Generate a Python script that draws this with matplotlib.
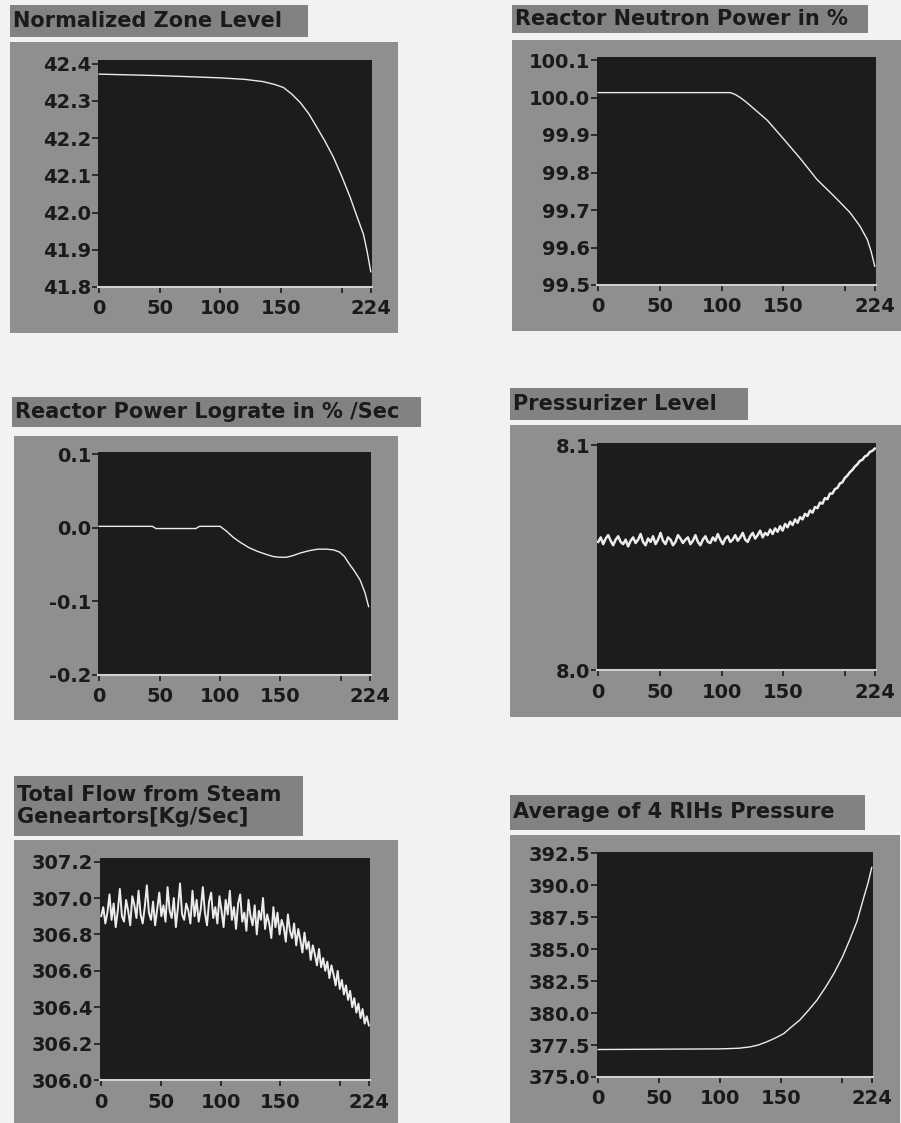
import numpy as np
import matplotlib.pyplot as plt
from matplotlib.patches import Rectangle

# ---- data ----
zone_x = [0, 50, 100, 120, 135, 145, 152, 159, 166, 173, 179, 186, 193, 200, 207, 212, 218, 221, 224]
zone_y = [42.372, 42.368, 42.362, 42.358, 42.352, 42.344, 42.336, 42.318, 42.295, 42.265, 42.232,
          42.193, 42.15, 42.098, 42.041, 41.995, 41.941, 41.895, 41.841]

neutron_x = [0, 50, 107, 111, 115, 119, 123, 137, 150, 164, 177, 191, 204, 212, 218, 221, 224]
neutron_y = [100.013, 100.013, 100.013, 100.008, 100.0, 99.99, 99.979, 99.939, 99.89, 99.836,
             99.782, 99.737, 99.693, 99.657, 99.621, 99.59, 99.55]

lograte_x = [0, 44, 47, 80, 83, 100, 105, 111, 117, 124, 131, 138, 144, 149, 155, 160, 167, 174,
             181, 188, 194, 199, 203, 207, 211, 216, 220, 223]
lograte_y = [0.002, 0.002, -0.001, -0.001, 0.002, 0.002, -0.004, -0.013, -0.020, -0.027, -0.032,
             -0.036, -0.039, -0.040, -0.040, -0.038, -0.034, -0.031, -0.029, -0.029, -0.030,
             -0.033, -0.039, -0.049, -0.058, -0.071, -0.088, -0.107]

pressurizer_y = [
    8.0570, 8.0590, 8.0560, 8.0585, 8.0600, 8.0575, 8.0555, 8.0580, 8.0595, 8.0570,
    8.0560, 8.0580, 8.0550, 8.0575, 8.0590, 8.0565, 8.0580, 8.0605, 8.0570, 8.0555,
    8.0585, 8.0570, 8.0595, 8.0560, 8.0580, 8.0610, 8.0575, 8.0560, 8.0590, 8.0580,
    8.0555, 8.0570, 8.0600, 8.0585, 8.0565, 8.0580, 8.0590, 8.0560, 8.0575, 8.0600,
    8.0570, 8.0555, 8.0580, 8.0595, 8.0570, 8.0565, 8.0590, 8.0575, 8.0605, 8.0580,
    8.0560, 8.0585, 8.0595, 8.0570, 8.0580, 8.0600, 8.0575, 8.0590, 8.0610, 8.0580,
    8.0570, 8.0595, 8.0610, 8.0585, 8.0600, 8.0620, 8.0590, 8.0610, 8.0600, 8.0625,
    8.0605, 8.0630, 8.0615, 8.0640, 8.0620, 8.0650, 8.0635, 8.0660, 8.0645, 8.0670,
    8.0655, 8.0680, 8.0670, 8.0695, 8.0685, 8.0710, 8.0700, 8.0725, 8.0720, 8.0745,
    8.0740, 8.0765, 8.0760, 8.0785, 8.0785, 8.0805, 8.0810, 8.0830, 8.0835, 8.0855,
    8.0865, 8.0880, 8.0890, 8.0905, 8.0915, 8.0930, 8.0935, 8.0950, 8.0955, 8.0970,
    8.0975, 8.0985,
]
pressurizer_x = np.linspace(0, 224, len(pressurizer_y))

flow_y = [
    306.90, 306.95, 306.86, 306.92, 307.02, 306.88, 306.97, 306.84, 306.93, 307.05,
    306.90, 306.87, 306.99, 306.93, 306.85, 307.01, 306.96, 306.89, 307.04, 306.91,
    306.86, 306.95, 307.07, 306.92, 306.88, 306.98, 306.85, 306.94, 307.03, 306.90,
    306.96, 306.87, 307.06, 306.93, 306.89, 307.00, 306.84, 306.95, 307.08, 306.91,
    306.88, 306.97, 306.93, 306.86, 307.04, 306.90, 306.99, 306.87, 306.94, 307.06,
    306.92, 306.85, 306.98, 307.03, 306.89, 306.95, 306.86, 307.01, 306.93, 306.84,
    306.99, 306.91, 307.04, 306.88, 306.95, 306.83, 306.97, 307.02, 306.87, 306.92,
    306.82, 306.99, 306.90, 306.85, 306.96, 306.80, 306.93, 306.88, 307.00, 306.83,
    306.91, 306.86, 306.78, 306.95, 306.84, 306.92, 306.80, 306.88, 306.84, 306.76,
    306.91, 306.82, 306.78, 306.86, 306.74, 306.83, 306.77, 306.70, 306.81, 306.72,
    306.76, 306.66, 306.74, 306.69, 306.63, 306.72, 306.62, 306.67, 306.60, 306.65,
    306.56, 306.63, 306.58, 306.52, 306.60, 306.50, 306.55, 306.47, 306.52, 306.44,
    306.49, 306.40, 306.45, 306.37, 306.42, 306.34, 306.39, 306.31, 306.35, 306.30,
]
flow_x = np.linspace(0, 224, len(flow_y))

rih_x = [0, 100, 115, 124, 131, 138, 145, 152, 158, 165, 172, 179, 186, 193, 200, 206, 212, 217, 221, 224]
rih_y = [377.15, 377.2, 377.25, 377.35, 377.5, 377.75, 378.05, 378.4, 378.9, 379.45, 380.2, 381.0,
         382.0, 383.1, 384.4, 385.75, 387.2, 388.9, 390.2, 391.4]

x_ticks = [0, 50, 100, 150, 200, 224]
x_labels = ['0', '50', '100', '150', '', '224']

W, H = 901, 1123
fig = plt.figure(figsize=(W / 100, H / 100), dpi=100)
fig.patch.set_facecolor('#f2f2f2')


def fig_rect(x0, y0, x1, y1):
    return [x0 / W, 1 - y1 / H, (x1 - x0) / W, (y1 - y0) / H]


def add_box(x0, y0, x1, y1, color):
    fig.add_artist(Rectangle((x0 / W, 1 - y1 / H), (x1 - x0) / W, (y1 - y0) / H,
                             transform=fig.transFigure, facecolor=color,
                             edgecolor='none', zorder=0))


def panel(title, tbox, box, plot, x, y, ylim, yticks, ylabels, lw=1.0):
    add_box(*tbox, '#828282')
    fig.text((tbox[0] + 3) / W, 1 - (tbox[1] + tbox[3]) / 2 / H, title,
             ha='left', va='center', fontsize=15, fontweight='bold',
             color='#1a1a1a', linespacing=1.15)
    add_box(*box, '#8f8f8f')
    ax = fig.add_axes(fig_rect(*plot))
    ax.set_facecolor('#1c1c1c')
    ax.plot(x, y, color='#ececec', lw=lw)
    ax.set_xlim(-1, 225)
    ax.set_ylim(*ylim)
    ax.set_xticks(x_ticks)
    ax.set_xticklabels(x_labels)
    ax.set_yticks(yticks)
    ax.set_yticklabels(ylabels)
    for s in ['top', 'right', 'left']:
        ax.spines[s].set_visible(False)
    ax.spines['bottom'].set_color('#d0d0d0')
    ax.spines['bottom'].set_linewidth(1.5)
    ax.tick_params(axis='both', colors='#1a1a1a', labelsize=14, length=4, width=1.2)
    ax.tick_params(axis='y', pad=1)
    ax.tick_params(axis='x', pad=5)
    for lab in ax.get_xticklabels() + ax.get_yticklabels():
        lab.set_fontweight('bold')
    return ax


panel('Normalized Zone Level', (10, 5, 308, 37), (10, 42, 398, 333), (98, 60, 372, 287),
      zone_x, zone_y, (41.8, 42.41), [41.8, 41.9, 42.0, 42.1, 42.2, 42.3, 42.4],
      ['41.8', '41.9', '42.0', '42.1', '42.2', '42.3', '42.4'])

panel('Reactor Neutron Power in %', (512, 5, 868, 33), (512, 40, 901, 331), (597, 57, 876, 285),
      neutron_x, neutron_y, (99.5, 100.108), [99.5, 99.6, 99.7, 99.8, 99.9, 100.0, 100.1],
      ['99.5', '99.6', '99.7', '99.8', '99.9', '100.0', '100.1'])

panel('Reactor Power Lograte in % /Sec', (12, 397, 421, 427), (14, 436, 398, 720), (98, 452, 371, 675),
      lograte_x, lograte_y, (-0.2, 0.103), [-0.2, -0.1, 0.0, 0.1],
      ['-0.2', '-0.1', '0.0', '0.1'])

panel('Pressurizer Level', (510, 388, 748, 420), (510, 425, 901, 717), (597, 443, 876, 670),
      pressurizer_x, pressurizer_y, (8.0, 8.101), [8.0, 8.1], ['8.0', '8.1'], lw=1.8)

panel('Total Flow from Steam\nGeneartors[Kg/Sec]', (14, 776, 303, 836), (14, 840, 398, 1123),
      (100, 858, 370, 1080), flow_x, flow_y, (306.0, 307.22),
      [306.0, 306.2, 306.4, 306.6, 306.8, 307.0, 307.2],
      ['306.0', '306.2', '306.4', '306.6', '306.8', '307.0', '307.2'], lw=1.4)

panel('Average of 4 RIHs Pressure', (510, 795, 865, 830), (510, 835, 900, 1123), (597, 852, 873, 1077),
      rih_x, rih_y, (375.0, 392.6), [375.0, 377.5, 380.0, 382.5, 385.0, 387.5, 390.0, 392.5],
      ['375.0', '377.5', '380.0', '382.5', '385.0', '387.5', '390.0', '392.5'])

fig.savefig('out.png', dpi=100, facecolor=fig.get_facecolor())
